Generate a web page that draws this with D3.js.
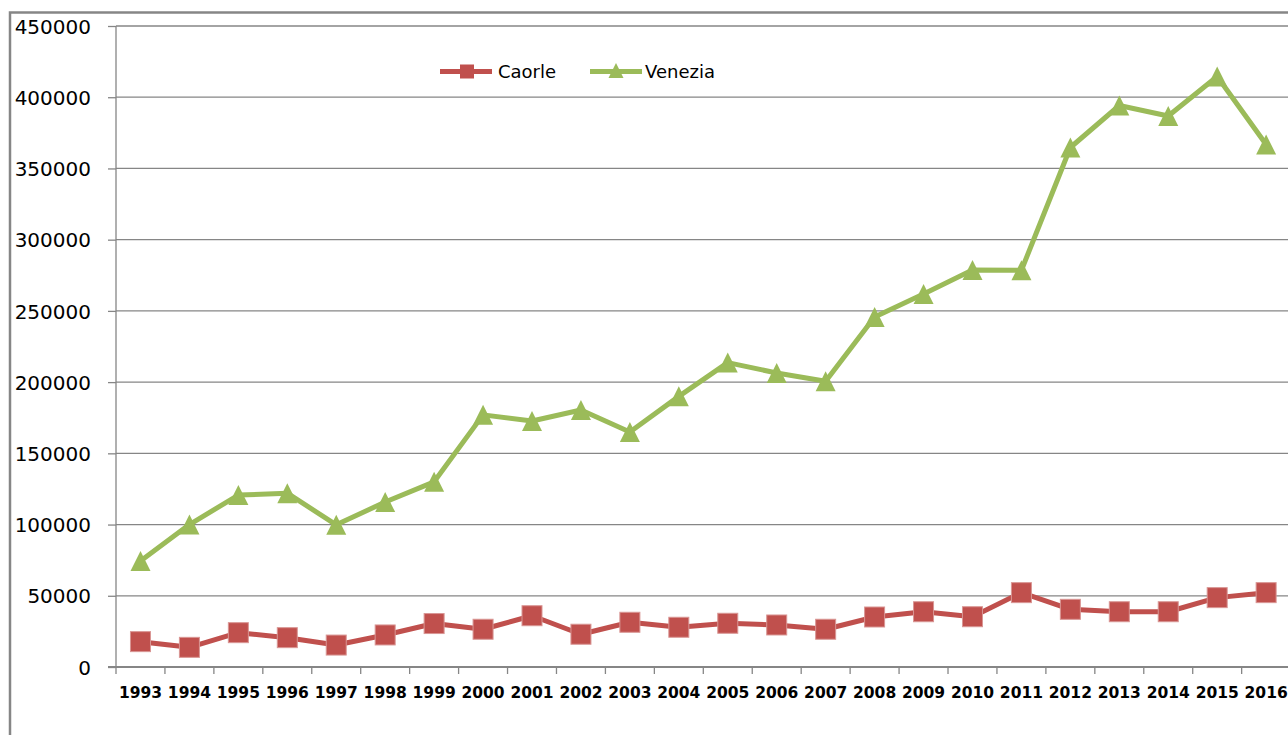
<!DOCTYPE html>
<html>
<head>
<meta charset="utf-8">
<script src="https://cdn.jsdelivr.net/npm/d3@7"></script>
<style>
  body { margin: 0; background: #fff; }
  svg { display: block; font-family: "DejaVu Sans", Verdana, sans-serif; }
</style>
</head>
<body>
<div id="chart"></div>
<script>
// arrivals by year, Caorle vs Venezia

const years = ["1993","1994","1995","1996","1997","1998","1999","2000","2001","2002","2003","2004",
  "2005","2006","2007","2008","2009","2010","2011","2012","2013","2014","2015","2016"];

const caorle = [17800, 13800, 24100, 20600, 15400, 22500, 30500, 26500, 36000, 23000, 31400, 27900,
  30700, 29500, 26500, 35100, 38800, 35300, 52200, 40500, 38800, 38800, 48700, 52200];

const venezia = [74400, 100000, 120700, 122000, 99800, 115800, 130000, 177000, 172700, 180400, 165000, 190000,
  213700, 206400, 200600, 245700, 261800, 278700, 278500, 364700, 394200, 386800, 414500, 366800];

const yTicks = [0, 50000, 100000, 150000, 200000, 250000, 300000, 350000, 400000, 450000];

const W = 1288, H = 735;
const plotLeft = 116, plotRight = 1290.6, plotTop = 26, plotBottom = 667;

const svg = d3.select("#chart").append("svg")
  .attr("width", W)
  .attr("height", H);

svg.append("rect").attr("width", W).attr("height", H).attr("fill", "#fff");

// outer chart frame (cut off on the right and bottom)
svg.append("path")
  .attr("d", `M10,${H + 5}V12.5H${W + 5}`)
  .attr("fill", "none")
  .attr("stroke", "#868686")
  .attr("stroke-width", 2.5);

const x = d3.scaleBand()
  .domain(years)
  .range([plotLeft, plotRight])
  .paddingInner(0)
  .paddingOuter(0);

const y = d3.scaleLinear()
  .domain([0, 450000])
  .range([plotBottom, plotTop]);

// gridlines
svg.append("g")
  .selectAll("line")
  .data(yTicks.filter(d => d > 0))
  .join("line")
  .attr("x1", plotLeft)
  .attr("x2", W)
  .attr("y1", d => y(d))
  .attr("y2", d => y(d))
  .attr("stroke", "#868686")
  .attr("stroke-width", 1.3);

// y axis
const yAxis = svg.append("g")
  .attr("transform", `translate(${plotLeft},0)`)
  .call(d3.axisLeft(y)
    .tickValues(yTicks)
    .tickSize(8)
    .tickPadding(17)
    .tickFormat(d3.format("d")));

yAxis.select(".domain").attr("stroke", "#868686").attr("stroke-width", 1.3)
  .attr("d", `M0,${plotTop}V${plotBottom}`);
yAxis.selectAll(".tick line").attr("stroke", "#868686").attr("stroke-width", 1.3);
yAxis.selectAll(".tick text")
  .attr("font-size", 20)
  .attr("font-family", "DejaVu Sans")
  .attr("fill", "#000")
  .attr("dy", "0.36em");

// x axis
const xAxis = svg.append("g")
  .attr("transform", `translate(0,${plotBottom})`)
  .call(d3.axisBottom(x).tickSize(0).tickPadding(20));

xAxis.select(".domain").attr("stroke", "#868686").attr("stroke-width", 2.2)
  .attr("d", `M${plotLeft - 8},0H${W}`);
xAxis.selectAll(".tick text")
  .attr("font-size", 15.5)
  .attr("font-weight", "bold")
  .attr("font-family", "DejaVu Sans")
  .attr("fill", "#000");

svg.append("g")
  .selectAll("line")
  .data(years)
  .join("line")
  .attr("x1", d => x(d))
  .attr("x2", d => x(d))
  .attr("y1", plotBottom)
  .attr("y2", plotBottom + 7)
  .attr("stroke", "#868686")
  .attr("stroke-width", 1.3);

const cx = d => x(d) + x.bandwidth() / 2;
const line = d3.line()
  .x((d, i) => cx(years[i]))
  .y(d => y(d));

const triangle = s => `M0,${-s / 2}L${s / 2},${s / 2}L${-s / 2},${s / 2}Z`;

// Venezia
svg.append("path")
  .datum(venezia)
  .attr("d", line)
  .attr("fill", "none")
  .attr("stroke", "#9BBB59")
  .attr("stroke-width", 5)
  .attr("stroke-linejoin", "round");

svg.append("g")
  .selectAll("path")
  .data(venezia)
  .join("path")
  .attr("transform", (d, i) => `translate(${cx(years[i])},${y(d)})`)
  .attr("d", triangle(20))
  .attr("fill", "#9BBB59");

// Caorle
svg.append("path")
  .datum(caorle)
  .attr("d", line)
  .attr("fill", "none")
  .attr("stroke", "#C0504D")
  .attr("stroke-width", 5)
  .attr("stroke-linejoin", "round");

svg.append("g")
  .selectAll("rect")
  .data(caorle)
  .join("rect")
  .attr("x", (d, i) => cx(years[i]) - 10)
  .attr("y", d => y(d) - 10)
  .attr("width", 20)
  .attr("height", 20)
  .attr("fill", "#C0504D")
  .attr("stroke", "#d99694")
  .attr("stroke-width", 1);

// legend
const legend = svg.append("g");
const ly = 71.5;

legend.append("line")
  .attr("x1", 440).attr("x2", 492).attr("y1", ly).attr("y2", ly)
  .attr("stroke", "#C0504D").attr("stroke-width", 5);
legend.append("rect")
  .attr("x", 460).attr("y", ly - 7).attr("width", 14).attr("height", 14)
  .attr("fill", "#C0504D");
legend.append("text")
  .attr("x", 498).attr("y", ly + 6.5)
  .attr("font-size", 18)
  .text("Caorle");

legend.append("line")
  .attr("x1", 590).attr("x2", 642).attr("y1", ly).attr("y2", ly)
  .attr("stroke", "#9BBB59").attr("stroke-width", 5);
legend.append("path")
  .attr("transform", `translate(616,${ly - 1})`)
  .attr("d", triangle(15))
  .attr("fill", "#9BBB59");
legend.append("text")
  .attr("x", 645).attr("y", ly + 6.5)
  .attr("font-size", 18)
  .text("Venezia");
</script>
</body>
</html>
